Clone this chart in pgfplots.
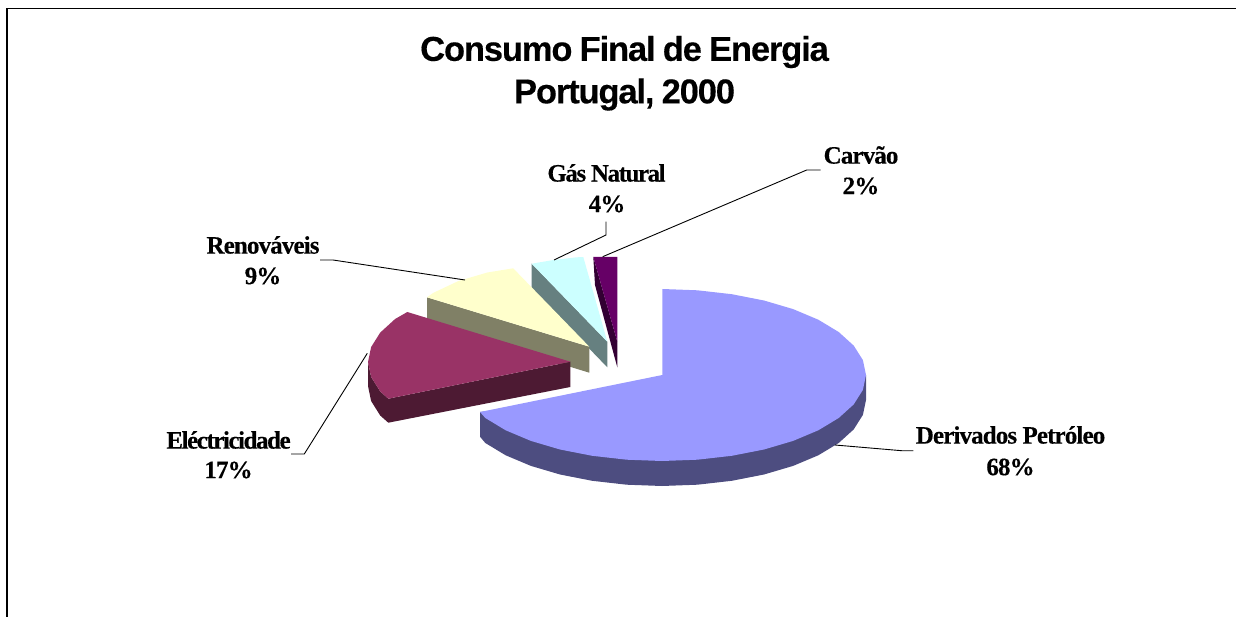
\documentclass[border=0pt]{standalone}
\usepackage{fontspec}
\setmainfont{Liberation Sans}
\newfontfamily\titlefont[LetterSpace=-3.3,WordSpace=0.85,FakeBold=0.3]{Liberation Sans}
\newfontfamily\labfont[LetterSpace=-3.5,FakeBold=0.3]{Liberation Serif}
\newfontfamily\labtight[LetterSpace=-5.8,FakeBold=0.3]{Liberation Serif}
\usepackage{pgfplots}
\pgfplotsset{compat=1.18}
\definecolor{mainT}{HTML}{9999FF}\definecolor{mainW}{HTML}{4D4D80}
\definecolor{elecT}{HTML}{993366}\definecolor{elecW}{HTML}{4D1A33}
\definecolor{renT}{HTML}{FFFFCC}\definecolor{renW}{HTML}{808066}
\definecolor{gasT}{HTML}{CCFFFF}\definecolor{gasW}{HTML}{668080}
\definecolor{coalT}{HTML}{660066}\definecolor{coalW}{HTML}{330033}
\tikzset{
  lead/.style={draw=black,line width=0.9pt,line join=miter},
  lab/.style={font=\labfont\bfseries\fontsize{25}{25}\selectfont,text=black,inner sep=0pt,anchor=center},
  labt/.style={font=\labtight\bfseries\fontsize{25}{25}\selectfont,text=black,inner sep=0pt,anchor=center},
  ttl/.style={font=\titlefont\bfseries\fontsize{34.5}{34.5}\selectfont,text=black,inner sep=0pt,anchor=center},
}
\begin{document}
\begin{tikzpicture}
\path[use as bounding box] (0,0) rectangle (1236pt,617pt);
\begin{axis}[
  at={(0,0)},anchor=south west,
  width=1236pt,height=617pt,scale only axis,
  xmin=0,xmax=1236,ymin=0,ymax=617,y dir=reverse,
  hide axis,clip=true,
  every axis plot/.append style={no marks},
]
% frame
\addplot[draw=black,line width=1.6pt] coordinates {(7,617) (7,8.5) (1236,8.5)};
% gas
\addplot[draw=none,fill=gasW] coordinates {(531.7,263.7) (607.3,341.7) (607.3,367.3) (531.7,289)};
\addplot[draw=none,fill=gasT] coordinates {(607.3,341.7) (531.7,263.7) (553.3,260) (576.7,257.3) (583.3,257)};
% coal
\addplot[draw=none,fill=coalW] coordinates {(593.3,257) (617.3,341.7) (617.3,367.3) (595,285)};
\addplot[draw=none,fill=coalT] coordinates {(593.3,257) (617.3,257) (617.3,341.7)};
% renewables
\addplot[draw=none,fill=renW] coordinates {(427,297.3) (589.3,346.7) (589.3,372.7) (427,323)};
\addplot[draw=none,fill=renT] coordinates {(589.3,346.7) (513.2,268.3) (487.3,272.5) (458.2,281.1) (433,293) (427,297.3)};
% electricity
\addplot[draw=none,fill=elecW] coordinates {(368,362) (368,386) (371.1,401) (380.2,415.5) (388.3,422.7) (570.3,387) (570.3,361.7) (388.3,398.7) (380.2,391.4) (371.1,376.9)};
\addplot[draw=none,fill=elecT] coordinates {(570.3,361.7) (388.3,398.7) (380.2,391.4) (371.1,376.9) (368,362) (371.1,347.1) (380.2,332.6) (395.1,319) (407.3,312)};
% oil products
\addplot[draw=none,fill=mainW] coordinates {(866,375) (866,400) (862.9,414.9) (853.7,429.4) (838.7,443) (818.3,455.3) (793.1,465.9) (764,474.5) (731.8,480.8) (697.4,484.7) (662,486) (626.6,484.7) (592.2,480.8) (560,474.5) (530.9,465.9) (505.7,455.3) (485.3,443) (480,436.7) (480,412)};
\addplot[draw=none,fill=mainT] coordinates {(662.3,375) (662.3,289) (697.4,290.3) (731.8,294.2) (764,300.5) (793.1,309.1) (818.3,319.7) (838.7,332) (853.7,345.6) (862.9,360.1) (866,375) (862.9,389.9) (853.7,404.4) (838.7,418) (818.3,430.3) (793.1,440.9) (764,449.5) (731.8,455.8) (697.4,459.7) (662,461) (626.6,459.7) (592.2,455.8) (560,449.5) (530.9,440.9) (505.7,430.3) (485.3,418) (480,412)};
% leaders
\addplot[lead] coordinates {(554,260) (606,235) (606,221.7)};
\addplot[lead] coordinates {(602.7,256.7) (806.7,170) (820.7,170)};
\addplot[lead] coordinates {(320,260) (333,260) (465,280)};
\addplot[lead] coordinates {(835,445) (901.7,450.7) (913.3,450.7)};
\addplot[lead] coordinates {(367.3,353.3) (304.3,454) (291,454)};
% text
\node[ttl] at (axis cs:624.5,52) {Consumo Final de Energia};
\node[ttl] at (axis cs:624.5,94.5) {Portugal, 2000};
\node[labt] at (axis cs:606.5,173) {Gás Natural};
\node[lab] at (axis cs:607,204) {4\%};
\node[lab] at (axis cs:861,155) {Carvão};
\node[lab] at (axis cs:861,186) {2\%};
\node[lab] at (axis cs:263,245) {Renováveis};
\node[lab] at (axis cs:263,276) {9\%};
\node[labt] at (axis cs:228.5,440) {Eléctricidade};
\node[lab] at (axis cs:228.5,470) {17\%};
\node[lab] at (axis cs:1010.5,435) {Derivados Petróleo};
\node[lab] at (axis cs:1010.5,467) {68\%};
\end{axis}
\end{tikzpicture}
\end{document}
